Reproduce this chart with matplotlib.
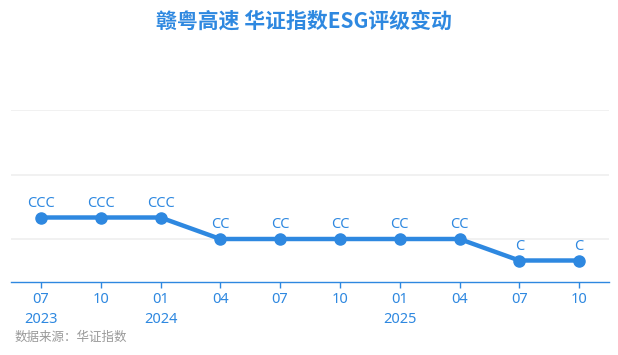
import matplotlib
matplotlib.use("Agg")
import matplotlib.pyplot as plt

plt.rcParams['font.family'] = ['Noto Sans CJK SC', 'DejaVu Sans']

# data
months = ["07", "10", "01", "04", "07", "10", "01", "04", "07", "10"]
years = ["2023", "", "2024", "", "", "", "2025", "", "", ""]
ratings = ["CCC", "CCC", "CCC", "CC", "CC", "CC", "CC", "CC", "C", "C"]
rating_level = {"C": 1, "CC": 2, "CCC": 3}
values = [rating_level[r] for r in ratings]

blue = "#2e88e0"

fig = plt.figure(figsize=(6.18, 3.55), dpi=100)
ax = fig.add_axes([11/618, (355-282)/355, 598/618, 172/355])

x = list(range(len(months)))
ax.plot(x, values, color=blue, lw=3.2, marker="o", ms=8, zorder=3,
        solid_capstyle="round", solid_joinstyle="round")
for xi, v, r in zip(x, values, ratings):
    ax.annotate(r, (xi, v), xytext=(0, 5), textcoords="offset points",
                ha="center", va="bottom", color=blue, fontsize=10.5,
                family=["Noto Sans", "DejaVu Sans"])

ax.set_xlim(-0.5, len(months) - 0.5)
ax.set_ylim(0, 8)
for g in [2, 5, 8]:
    ax.axhline(g, color="#efefef", lw=1.2, zorder=1)

ax.set_xticks(x)
ax.set_xticklabels([m + ("\n" + y if y else "") for m, y in zip(months, years)],
                   color=blue, fontsize=10.5, linespacing=1.45, va="top",
                   family=["Noto Sans", "DejaVu Sans"])
ax.tick_params(axis="x", length=4, color=blue, width=1, pad=3)
ax.set_yticks([])
for s in ["top", "right", "left"]:
    ax.spines[s].set_visible(False)
ax.spines["bottom"].set_color(blue)
ax.spines["bottom"].set_linewidth(1)

fig.text(304/618, 1 - 21/355, "赣粤高速 华证指数ESG评级变动", ha="center", va="center",
         color=blue, fontsize=15, fontweight="bold")
fig.text(15/618, 1 - 337/355, "数据来源：华证指数", ha="left", va="center",
         color="#999999", fontsize=9)

fig.savefig("out.png", dpi=100)
